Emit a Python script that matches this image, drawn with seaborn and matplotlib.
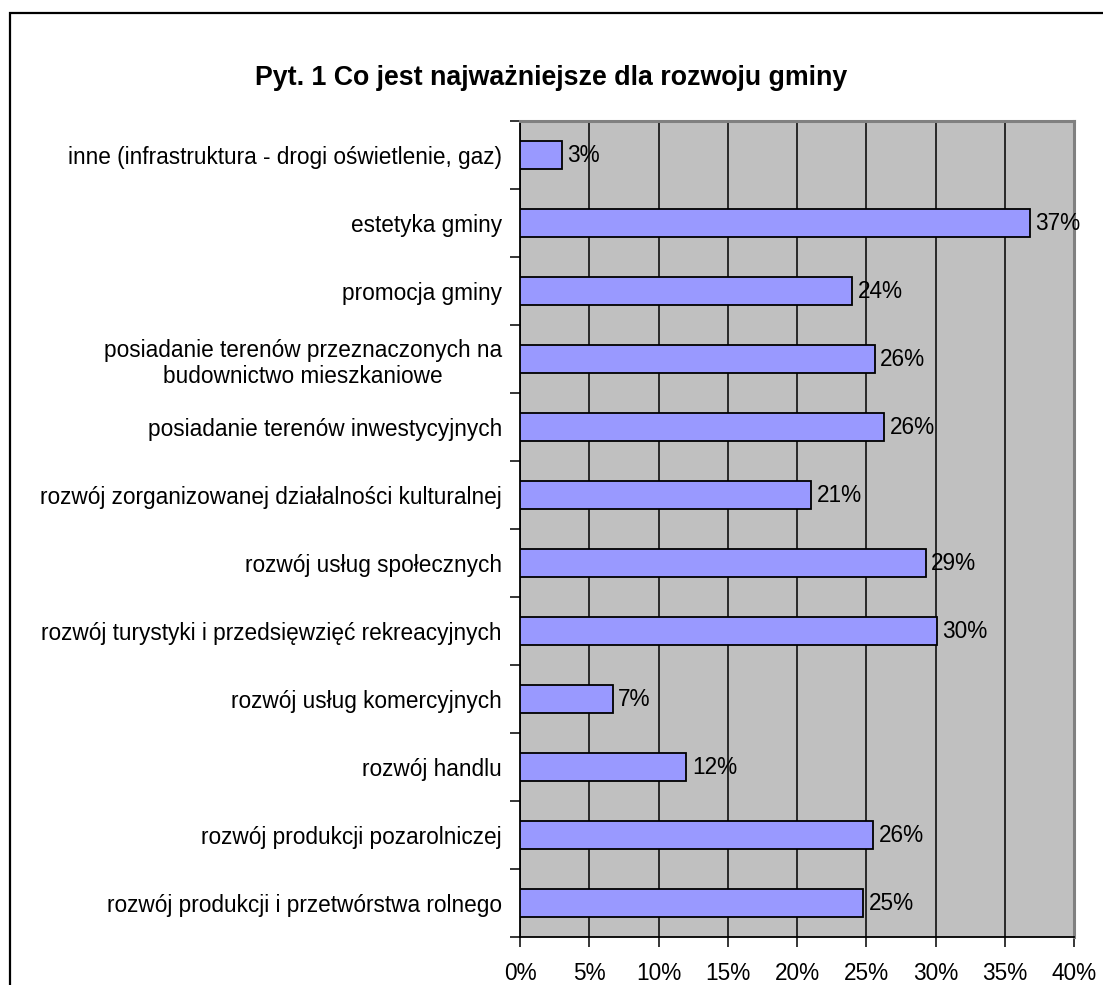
import matplotlib
matplotlib.use("Agg")
import matplotlib.pyplot as plt
import matplotlib.patches as mpatches
from matplotlib.ticker import FixedLocator
import seaborn as sns
import pandas as pd

categories = [
    "inne (infrastruktura - drogi oświetlenie, gaz)",
    "estetyka gminy",
    "promocja gminy",
    "posiadanie terenów przeznaczonych na\nbudownictwo mieszkaniowe",
    "posiadanie terenów inwestycyjnych",
    "rozwój zorganizowanej działalności kulturalnej",
    "rozwój usług społecznych",
    "rozwój turystyki i przedsięwzięć rekreacyjnych",
    "rozwój usług komercyjnych",
    "rozwój handlu",
    "rozwój produkcji pozarolniczej",
    "rozwój produkcji i przetwórstwa rolnego",
]
values = [3.0, 36.8, 24.0, 25.6, 26.3, 21.0, 29.3, 30.1, 6.7, 12.0, 25.5, 24.8]
xticks = [0, 5, 10, 15, 20, 25, 30, 35, 40]
title = "Pyt. 1 Co jest najważniejsze dla rozwoju gminy"

sns.set_theme(style="white")
plt.rcParams["font.family"] = ["Liberation Sans", "DejaVu Sans"]

FS = 16.3
W, H = 1103, 985
fig = plt.figure(figsize=(W / 100, H / 100), dpi=100)
fig.patch.set_facecolor("white")
ax = fig.add_axes([520 / W, 1 - 937 / H, (1074 - 520) / W, (937 - 121) / H])

df = pd.DataFrame({"cat": categories, "val": values})
sns.barplot(data=df, y="cat", x="val", orient="h", ax=ax, width=0.4,
            color="#9999FF", saturation=1, edgecolor="black", linewidth=1.3,
            zorder=3)

ax.set_facecolor("#C0C0C0")
ax.set_xlim(0, 40)
ax.set_ylim(len(categories) - 0.5, -0.5)
ax.set_xticks(xticks)
ax.set_xticklabels([f"{t}%" for t in xticks])
ax.xaxis.grid(True, color="black", linewidth=1.1, zorder=1)
ax.yaxis.grid(False)
ax.set_axisbelow(True)
ax.set_xlabel("")
ax.set_ylabel("")

# y ticks: labels at centers, tick marks at category boundaries
ax.tick_params(axis="y", which="major", length=0, pad=13, labelsize=FS,
               labelcolor="black")
for lbl in ax.get_yticklabels():
    lbl.set_multialignment("center")
ax.yaxis.set_minor_locator(FixedLocator([i - 0.5 for i in range(len(categories) + 1)]))
ax.tick_params(axis="y", which="minor", left=True, length=7, width=1.1,
               color="black", direction="out")
ax.tick_params(axis="x", which="major", bottom=True, length=7, width=1.1,
               color="black", direction="out", pad=11, labelsize=FS,
               labelcolor="black")

for side in ["left", "bottom"]:
    ax.spines[side].set_color("black")
    ax.spines[side].set_linewidth(1.3)
for side in ["top", "right"]:
    ax.spines[side].set_color("#808080")
    ax.spines[side].set_linewidth(2.2)

ax.bar_label(ax.containers[0], labels=[f"{v:.0f}%" for v in values],
             padding=4, fontsize=FS, color="black")

fig.text(551 / W, 1 - 78 / H, title, ha="center", va="center",
         fontsize=19.3, fontweight="bold", color="black")

# outer chart border (extends beyond image on right and bottom)
border = mpatches.Rectangle((10 / W, -20 / H), 1.2, (985 - 13 + 20) / H,
                            transform=fig.transFigure, fill=False,
                            edgecolor="black", linewidth=1.6, clip_on=False)
fig.patches.append(border)

fig.savefig("out.png", dpi=100, facecolor="white")
